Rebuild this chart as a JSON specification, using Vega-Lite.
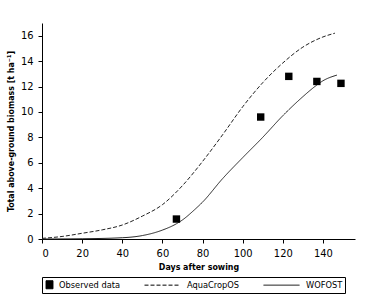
{
  "$schema": "https://vega.github.io/schema/vega-lite/v6.json",
  "width": 313,
  "height": 216,
  "autosize": {"type": "none"},
  "padding": {"left": 42, "top": 23, "right": 17, "bottom": 58},
  "background": "white",
  "config": {
    "view": {"stroke": null},
    "font": "DejaVu Sans Condensed",
    "axis": {
      "grid": false,
      "domainColor": "black",
      "tickColor": "black",
      "tickSize": 4,
      "labelColor": "black",
      "labelFont": "DejaVu Sans Condensed",
      "labelFontSize": 11,
      "labelOverlap": false,
      "titleFont": "DejaVu Sans Condensed",
      "titleFontSize": 8.8,
      "titleFontWeight": "bold",
      "titleColor": "black"
    }
  },
  "datasets": {
    "sim": [
      {"series": "AquaCropOS", "day": 0, "value": 0.05},
      {"series": "AquaCropOS", "day": 10, "value": 0.2},
      {"series": "AquaCropOS", "day": 20, "value": 0.45},
      {"series": "AquaCropOS", "day": 30, "value": 0.72},
      {"series": "AquaCropOS", "day": 40, "value": 1.1},
      {"series": "AquaCropOS", "day": 50, "value": 1.8},
      {"series": "AquaCropOS", "day": 60, "value": 2.7},
      {"series": "AquaCropOS", "day": 70, "value": 4.2},
      {"series": "AquaCropOS", "day": 80, "value": 6.1},
      {"series": "AquaCropOS", "day": 90, "value": 8.2},
      {"series": "AquaCropOS", "day": 100, "value": 10.4},
      {"series": "AquaCropOS", "day": 110, "value": 12.3},
      {"series": "AquaCropOS", "day": 120, "value": 13.85},
      {"series": "AquaCropOS", "day": 130, "value": 15.1},
      {"series": "AquaCropOS", "day": 140, "value": 15.9},
      {"series": "AquaCropOS", "day": 146, "value": 16.2},
      {"series": "WOFOST", "day": 0, "value": 0.0},
      {"series": "WOFOST", "day": 20, "value": 0.02},
      {"series": "WOFOST", "day": 40, "value": 0.1},
      {"series": "WOFOST", "day": 50, "value": 0.27},
      {"series": "WOFOST", "day": 60, "value": 0.7},
      {"series": "WOFOST", "day": 67, "value": 1.2},
      {"series": "WOFOST", "day": 70, "value": 1.5},
      {"series": "WOFOST", "day": 76, "value": 2.3},
      {"series": "WOFOST", "day": 80, "value": 2.9},
      {"series": "WOFOST", "day": 90, "value": 4.75},
      {"series": "WOFOST", "day": 100, "value": 6.4},
      {"series": "WOFOST", "day": 110, "value": 8.0},
      {"series": "WOFOST", "day": 120, "value": 9.7},
      {"series": "WOFOST", "day": 130, "value": 11.2},
      {"series": "WOFOST", "day": 136, "value": 12.0},
      {"series": "WOFOST", "day": 140, "value": 12.45},
      {"series": "WOFOST", "day": 147, "value": 12.9}
    ],
    "obs": [
      {"series": "Observed data", "day": 67, "value": 1.57},
      {"series": "Observed data", "day": 109, "value": 9.6},
      {"series": "Observed data", "day": 123, "value": 12.8},
      {"series": "Observed data", "day": 137, "value": 12.4},
      {"series": "Observed data", "day": 149, "value": 12.25}
    ]
  },
  "encoding": {
    "x": {
      "field": "day", "type": "quantitative",
      "scale": {"domain": [0, 156], "nice": false},
      "axis": {"values": [0, 20, 40, 60, 80, 100, 120, 140], "title": "Days after sowing", "labelPadding": 4, "titlePadding": 4}
    },
    "y": {
      "field": "value", "type": "quantitative",
      "scale": {"domain": [0, 17], "nice": false},
      "axis": {"values": [0, 2, 4, 6, 8, 10, 12, 14, 16], "title": "Total above-ground biomass [t ha⁻¹]", "labelPadding": 5, "titlePadding": 5}
    }
  },
  "layer": [
    {
      "data": {"name": "sim"},
      "mark": {"type": "line", "interpolate": "monotone", "color": "#222", "strokeWidth": 1},
      "encoding": {
        "strokeDash": {
          "field": "series", "type": "nominal",
          "scale": {"domain": ["Observed data", "AquaCropOS", "WOFOST"], "range": [[1, 0], [4, 2], [1, 0]]},
          "legend": {
            "title": null,
            "orient": "bottom",
            "direction": "horizontal",
            "offset": 6,
            "strokeColor": "black",
            "padding": 2,
            "columnPadding": 21,
            "symbolSize": 100,
            "symbolStrokeColor": "black",
            "symbolStrokeWidth": 1,
            "labelFont": "DejaVu Sans Condensed",
            "labelFontSize": 9.2,
            "labelColor": "black",
            "encode": {
              "symbols": {"update": {
                "shape": [{"test": "datum.value === 'Observed data'", "value": "M-0.7,-0.8L0.7,-0.8L0.7,0.8L-0.7,0.8Z"}, {"value": "M-1,0L6.2,0"}],
                "fill": [{"test": "datum.value === 'Observed data'", "value": "black"}, {"value": "transparent"}],
                "stroke": [{"test": "datum.value === 'Observed data'", "value": "black"}, {"value": "black"}]
              }},
              "labels": {"update": {
                "dx": [{"test": "datum.value === 'Observed data'", "value": 0}, {"value": 28}]
              }}
            }
          }
        }
      }
    },
    {
      "data": {"name": "obs"},
      "mark": {"type": "point", "shape": "square", "filled": true, "color": "black", "size": 55, "opacity": 1}
    }
  ]
}
